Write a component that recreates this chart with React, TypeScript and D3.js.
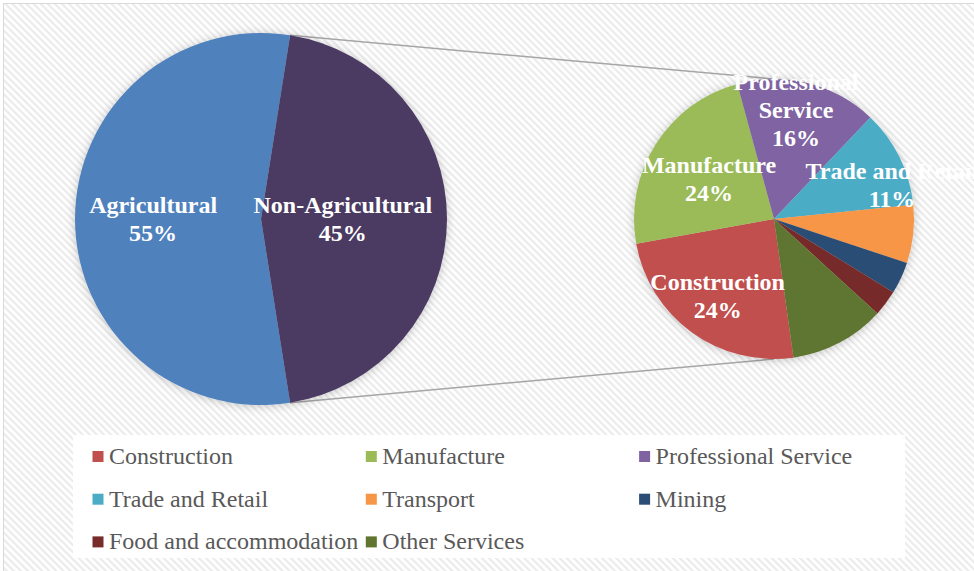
import React, { useEffect, useRef } from "react";
import * as d3 from "d3";

// primary pie
const mainCategories = ["Agricultural", "Non-Agricultural"];
const mainValues = [55, 45];

// secondary pie (split of Non-Agricultural), legend order
const subCategories = [
  "Construction",
  "Manufacture",
  "Professional Service",
  "Trade and Retail",
  "Transport",
  "Mining",
  "Food and accommodation",
  "Other Services",
];
const subValues = [24.4, 23.6, 16.3, 11.3, 6.7, 3.7, 3.0, 11.0];

const mainColors = ["#4F81BD", "#4C3A62"];
const subColors = [
  "#C0504D",
  "#9BBB59",
  "#8064A2",
  "#4BACC6",
  "#F79646",
  "#2C4D75",
  "#772C2A",
  "#5F7530",
];

// label placement: radius as a fraction of the pie radius, angle in degrees clockwise from 12 o'clock
const mainLabelPlacement = [
  { lines: ["Agricultural"], r: 0.58, a: 270 },
  { lines: ["Non-Agricultural"], r: 0.44, a: 90 },
];
const subLabelPlacement: Record<string, { lines: string[]; r: number; a: number }> = {
  Construction: { lines: ["Construction"], r: 0.68, a: 216.3 },
  Manufacture: { lines: ["Manufacture"], r: 0.546, a: 301.8 },
  "Professional Service": { lines: ["Professional", "Service"], r: 0.794, a: 11.4 },
  "Trade and Retail": { lines: ["Trade and Retail"], r: 0.878, a: 73.7 },
};

const W = 974;
const H = 571;
const FONT = "'Liberation Serif', 'Times New Roman', serif";
const rad = (deg: number) => (deg * Math.PI) / 180;

const App = () => {
  const ref = useRef<SVGSVGElement | null>(null);

  useEffect(() => {
    document.body.style.margin = "0";
    const svg = d3.select(ref.current);
    svg.selectAll("*").remove();

    const defs = svg.append("defs");

    // background diagonal stripes
    const pat = defs
      .append("pattern")
      .attr("id", "stripes")
      .attr("patternUnits", "userSpaceOnUse")
      .attr("width", 5)
      .attr("height", 5)
      .attr("patternTransform", "rotate(-45)");
    pat.append("rect").attr("width", 5).attr("height", 5).attr("fill", "#ffffff");
    pat.append("rect").attr("width", 2.2).attr("height", 5).attr("fill", "#ebebeb");

    // soft shadow under the pies
    const f = defs
      .append("filter")
      .attr("id", "shadow")
      .attr("x", "-20%")
      .attr("y", "-20%")
      .attr("width", "140%")
      .attr("height", "140%");
    f.append("feGaussianBlur").attr("in", "SourceAlpha").attr("stdDeviation", 5).attr("result", "blur");
    f.append("feOffset").attr("in", "blur").attr("dx", 0).attr("dy", 1).attr("result", "off");
    f.append("feFlood").attr("flood-color", "#000").attr("flood-opacity", 0.22);
    f.append("feComposite").attr("in2", "off").attr("operator", "in").attr("result", "sh");
    const merge = f.append("feMerge");
    merge.append("feMergeNode").attr("in", "sh");
    merge.append("feMergeNode").attr("in", "SourceGraphic");

    svg.append("rect").attr("width", W).attr("height", H).attr("fill", "#ffffff");
    svg
      .append("rect")
      .attr("x", 3.5)
      .attr("y", 3.5)
      .attr("width", W + 10)
      .attr("height", H + 10)
      .attr("fill", "url(#stripes)")
      .attr("stroke", "#d9d9d9")
      .attr("stroke-width", 1);

    // geometry
    const c1 = { x: 261, y: 219, r: 186 };
    const c2 = { x: 774, y: 219, r: 140 };

    const mainPie = d3
      .pie<number>()
      .sort(null)
      .value((d) => d)
      .startAngle(rad(171))
      .endAngle(rad(171) + Math.PI * 2);
    const subPie = d3
      .pie<number>()
      .sort(null)
      .value((d) => d)
      .startAngle(rad(172))
      .endAngle(rad(172) + Math.PI * 2);

    const mainArcs = mainPie(mainValues);
    const subArcs = subPie(subValues);

    // connector lines from the split edges of Non-Agricultural to the secondary pie
    const split = mainArcs[1];
    const onCircle = (c: { x: number; y: number; r: number }, ang: number) => [
      c.x + c.r * Math.sin(ang),
      c.y - c.r * Math.cos(ang),
    ];
    const [sx1, sy1] = onCircle(c1, split.startAngle);
    const [sx2, sy2] = onCircle(c1, split.endAngle);
    const lines = svg.append("g").attr("stroke", "#a6a6a6").attr("stroke-width", 1.5);
    lines.append("line").attr("x1", sx1).attr("y1", sy1).attr("x2", c2.x).attr("y2", c2.y - c2.r);
    lines.append("line").attr("x1", sx2).attr("y1", sy2).attr("x2", c2.x).attr("y2", c2.y + c2.r);

    const arc1 = d3.arc<d3.PieArcDatum<number>>().innerRadius(0).outerRadius(c1.r);
    const arc2 = d3.arc<d3.PieArcDatum<number>>().innerRadius(0).outerRadius(c2.r);

    svg
      .append("g")
      .attr("transform", `translate(${c1.x},${c1.y})`)
      .attr("filter", "url(#shadow)")
      .selectAll("path")
      .data(mainArcs)
      .enter()
      .append("path")
      .attr("d", arc1)
      .attr("fill", (_, i) => mainColors[i]);

    svg
      .append("g")
      .attr("transform", `translate(${c2.x},${c2.y})`)
      .attr("filter", "url(#shadow)")
      .selectAll("path")
      .data(subArcs)
      .enter()
      .append("path")
      .attr("d", arc2)
      .attr("fill", (_, i) => subColors[i]);

    // data labels
    const lineH = 28;
    const drawLabel = (
      c: { x: number; y: number; r: number },
      place: { lines: string[]; r: number; a: number },
      value: number
    ) => {
      const [lx, ly] = onCircle({ ...c, r: c.r * place.r }, rad(place.a));
      const all = [...place.lines, `${Math.round(value)}%`];
      const t = svg
        .append("text")
        .attr("text-anchor", "middle")
        .attr("font-family", FONT)
        .attr("font-weight", "bold")
        .attr("font-size", 24)
        .attr("fill", "#ffffff");
      all.forEach((s, i) => {
        t.append("tspan")
          .attr("x", lx)
          .attr("y", ly + (i - (all.length - 1) / 2) * lineH + 8)
          .text(s);
      });
    };
    mainCategories.forEach((_, i) => drawLabel(c1, mainLabelPlacement[i], mainValues[i]));
    subCategories.forEach((name, i) => {
      const p = subLabelPlacement[name];
      if (p) drawLabel(c2, p, subValues[i]);
    });

    // legend
    svg
      .append("rect")
      .attr("x", 73)
      .attr("y", 435)
      .attr("width", 832)
      .attr("height", 123)
      .attr("fill", "#ffffff");

    const colX = d3.scaleLinear().domain([0, 1]).range([92.5, 365.8]);
    const rowY = d3.scaleLinear().domain([0, 1]).range([464, 506.7]);
    const items = svg
      .append("g")
      .selectAll("g")
      .data(subCategories)
      .enter()
      .append("g")
      .attr("transform", (_, i) => `translate(${colX(i % 3)},${rowY(Math.floor(i / 3))})`);
    items
      .append("rect")
      .attr("x", 0)
      .attr("y", -13)
      .attr("width", 11)
      .attr("height", 11)
      .attr("fill", (_, i) => subColors[i]);
    items
      .append("text")
      .attr("x", 16.5)
      .attr("y", 0)
      .attr("font-family", FONT)
      .attr("font-size", 24)
      .attr("fill", "#595959")
      .text((d) => d);
  }, []);

  return <svg ref={ref} width={W} height={H} style={{ display: "block" }} />;
};

export default App;
